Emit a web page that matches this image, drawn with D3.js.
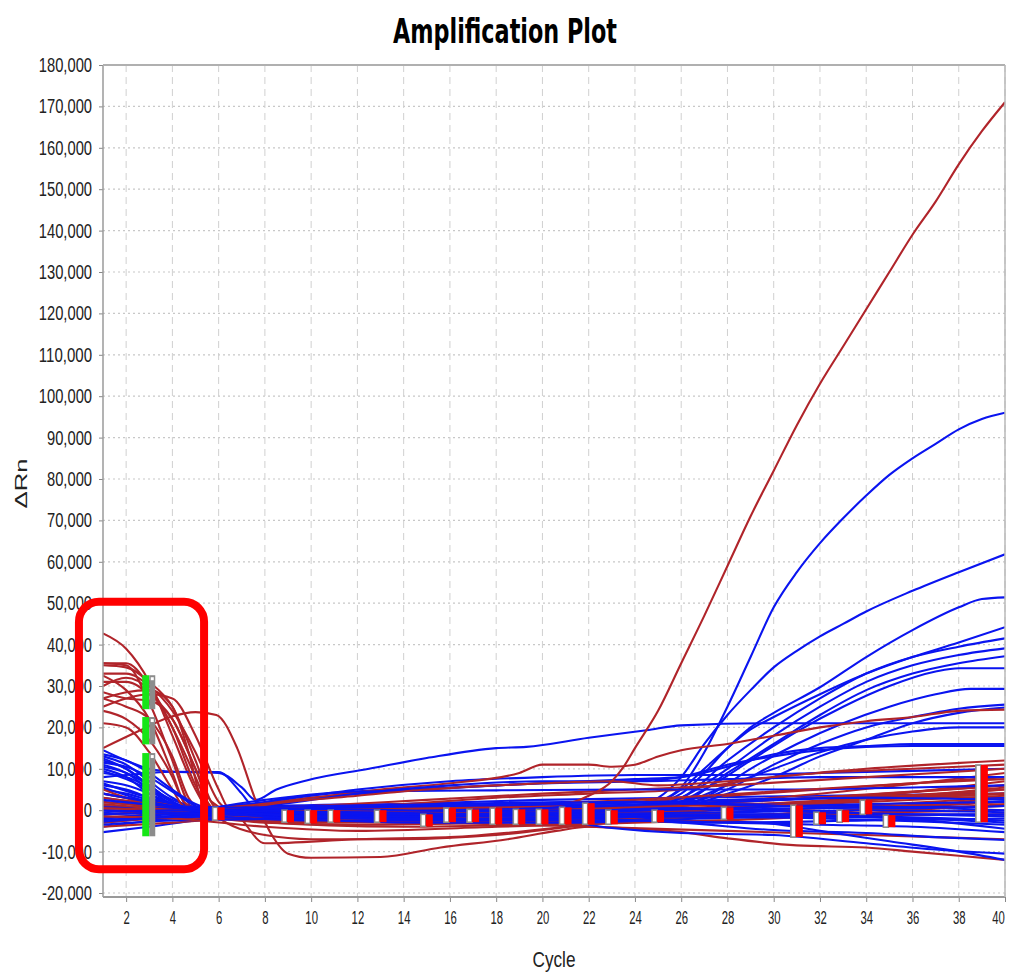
<!DOCTYPE html>
<html><head><meta charset="utf-8">
<script src="https://cdn.jsdelivr.net/npm/d3@7"></script>
<style>body{margin:0;background:#fff}svg{display:block}</style>
</head><body>
<svg id="chart" width="1010" height="976"></svg>
<script>
// ---------- data (values in thousands of ΔRn) ----------
const cycleTicks = [2,4,6,8,10,12,14,16,18,20,22,24,26,28,30,32,34,36,38,40];
const yTicks = [-20000,-10000,0,10000,20000,30000,40000,50000,60000,70000,80000,90000,100000,110000,120000,130000,140000,150000,160000,170000,180000];

const blueCurves = [
 [[1,14.5],[2,12],[3,10],[4,9.3],[6,9],[7,5.5],[7.6,2.5],[8.5,5],[9.8,7.2],[12.5,10],[15,12.6],[18,15],[19.3,15.3],[22,17.5],[24.5,19.3],[26,20.5],[30,21],[34,21],[40,21]],
 [[1,8],[2,8.5],[3,9],[4,9.3],[6,9.2],[7,4],[7.5,1],[9,0.5],[14,1.5],[20,2.5],[26,3],[32,3.5],[40,4]],
 [[1,13],[2,11],[3,7],[4,3],[5,0.5],[8,1],[14,1.5],[20,1],[24,0.5],[25,2],[26,5.5],[27,14],[28,25],[29,37],[30,49],[31,57.5],[32,64.5],[33,70.5],[34,76],[35,81],[36,85],[37,88.5],[38,92],[39,94.5],[40,96]],
 [[1,12],[2,10],[3,6],[4,2],[5,0],[10,0],[20,0.5],[24,1],[25,3],[26,8],[27,16],[28,23],[29,29],[30,34.5],[31,38.5],[32,42],[33,45],[34,48],[36,53],[38,57.5],[40,61.8]],
 [[1,11],[2,9],[3,5],[4,1.5],[5.5,0],[12,-0.5],[20,0],[24,0.5],[26,4],[27,9],[28,15],[29,20],[30,23.5],[32,29.7],[34,37],[36,43.5],[38,49],[39,51],[40,51.4]],
 [[1,10.5],[2,9],[3,6],[4,2],[5,0],[14,0.5],[24,0.5],[26,5],[27,10],[28,15],[29,19.5],[30,22.5],[32,28],[34,33],[36,37],[38,40.5],[40,44.2]],
 [[1,10],[2,8],[3,4],[4,1],[5,-0.5],[14,0],[24,0.5],[26,3],[28,12],[30,20],[32,27],[34,33],[36,37],[38,39.5],[40,41.5]],
 [[1,9.5],[2,7.5],[3,5],[4,2],[5,0],[12,-1],[20,-0.5],[24,0],[26,3],[28,10],[30,18],[32,25],[34,31],[36,35],[38,37.5],[40,39.1]],
 [[1,9],[2,8],[3,5.5],[4,2.5],[5.5,0.5],[14,1],[24,1],[26,2],[28,9],[30,16],[32,23],[34,29],[36,33],[38,35.5],[40,37.2]],
 [[1,7],[2,6],[3,4],[4,1.5],[5,0],[15,0],[25,0.5],[27,5],[29,12],[31,19],[33,25],[35,30],[37,33.5],[38,34.3],[40,34.3]],
 [[1,6],[2,5],[3,3],[4,1],[5,0],[16,-0.5],[25,0],[27,3],[29,10],[31,16],[33,21],[35,25],[37,28],[38.5,29.3],[40,29.3]],
 [[1,5],[2,4],[3,2.5],[5,0.5],[14,1],[25,0.5],[28,5],[30,11],[32,16],[34,20],[36,22.5],[38,24.5],[40,25.5]],
 [[1,4],[3,2],[5,0],[12,0],[20,0.5],[26,1],[28,4],[30,8],[32,13],[34,17],[36,21],[38,23.5],[40,24.8]],
 [[1,3],[3,1.5],[6,0],[14,0.5],[22,1],[26,2],[28,6],[30,10],[32,14],[34,17],[36,19],[38,20],[40,20]],
 [[1,2],[3,1],[6,0],[9,3],[12,4.5],[16,5.5],[20,6.5],[24,7.5],[26,8],[28,10.5],[30,13.5],[32,15],[34,15.5],[36,16],[40,16]],
 [[1,1],[4,0.5],[7,1],[10,3],[15,5],[20,6.5],[24,7],[26,8],[28,11],[30,13],[32,14.5],[36,15.5],[40,15.5]],
 [[1,0],[4,0],[8,2],[12,5],[16,7],[20,8],[24,8.5],[28,8.5],[32,9],[36,9.5],[40,10]],
 [[1,-1],[4,-0.5],[8,1],[12,4],[16,6],[20,7],[24,7],[28,7.5],[32,8],[36,8],[40,8]],
 [[1,-2],[5,0],[8,2.5],[12,4.5],[18,4.8],[24,5],[30,5],[36,5.5],[40,6]],
 [[1,-3],[5,-1],[10,0],[16,0.5],[22,1],[28,2],[34,3],[40,3]],
 [[1,-4],[4,-2],[8,-1],[14,-1],[20,-1.5],[26,-1],[32,-1],[40,-1]],
 [[1,-5.3],[3,-4],[6,-2],[10,-1.5],[16,-2],[22,-2.5],[28,-3],[34,-2.5],[40,-2]],
 [[1,-1.7],[4,-1],[8,0],[14,-0.5],[20,0],[26,0],[32,0.5],[40,1]],
 [[1,0.7],[5,0.5],[10,1],[16,1.5],[22,2],[28,1.5],[34,1],[40,0]],
 [[1,-2.4],[4,-1.5],[8,-1],[14,-1.5],[20,-2],[23,-4.3],[26,-5.5],[30,-6],[34,-8],[37,-9.5],[40,-10.5]],
 [[1,-3.5],[4,-2.5],[10,-2],[16,-1.5],[22,-1],[26,-2.5],[29.5,-3],[32,-5],[35,-7.5],[38,-10],[40,-12]],
 [[1,-1],[5,-0.5],[12,-1],[18,-1.5],[22,-2],[26,-3],[30,-4.8],[34,-5.5],[37,-6.5],[40,-7.2]],
 [[1,0],[6,-1],[12,-2],[18,-2.5],[24,-2.5],[28,-3],[32,-3.5],[36,-4],[40,-5.3]],
 [[1,12.5],[2,10],[3,6],[4,2],[5,0],[10,0.5],[16,1],[22,1.5],[28,2.5],[34,3],[40,2.5]],
 [[1,13.5],[2,12],[3,9],[4,5],[5,1.5],[6,0],[12,-0.5],[18,-1],[24,-1.5],[30,-1.5],[36,-2],[40,-3]],
 [[1,11.5],[2,10.5],[3,8],[4,4.5],[5,1],[6,-0.5],[12,-1.5],[20,-1],[28,-0.5],[34,0],[40,-0.5]],
 [[1,4],[2,3],[4,1],[8,-1],[14,-2],[20,-2],[26,-1.5],[32,-2],[40,-3.5]],
 [[1,6.5],[3,3],[5,0.5],[10,-0.5],[16,-1],[22,-0.5],[28,0.5],[34,1.5],[40,2]],
 [[1,-0.5],[4,0],[9,-2],[15,-3],[21,-3],[27,-2],[33,-1.5],[40,-2.5]],
 [[1,2.5],[4,1],[8,0.5],[14,0],[20,-0.5],[26,0.5],[32,-0.5],[40,-1.5]],
 [[1,-2.8],[5,-1.5],[10,-2.5],[16,-2.5],[22,-1.5],[28,-1],[34,-1.5],[40,-4.5]],
 [[1,5.5],[3,2],[6,-0.5],[12,1],[18,1.5],[24,2],[30,1],[36,0.5],[40,1]]
];

const redCurves = [
 [[1,42.7],[2,39],[3,31],[4,18],[5,5],[5.6,0],[8,-2],[12,-1.5],[20,-1],[26,0],[32,2],[40,4]],
 [[1,35.5],[2,35.5],[3,30],[4,20],[5,6],[5.7,0],[9,-1],[16,0],[24,1],[32,3],[40,6]],
 [[1,35.5],[2,35],[3,26],[4,12],[4.8,1],[6,-1],[12,-2],[20,-1],[28,1],[40,5]],
 [[1,35],[2,34.5],[3,31],[4,25],[5,12],[5.8,1],[7,-2],[14,-3],[22,-2],[30,0],[40,3]],
 [[1,32.5],[2,29],[3,22],[4,9],[4.6,1],[6,-2],[14,-4],[22,-3],[30,-1],[40,2]],
 [[1,30],[2,32],[3,29],[4,20],[5,8],[5.5,2],[6.5,-2],[10,-3],[20,-2],[30,1],[40,7]],
 [[1,28.5],[2,27],[3,26.5],[4,22],[5,10],[5.7,2],[7,-1],[18,0],[24,2],[32,5],[40,8]],
 [[1,27],[2,25],[3,22],[4,13],[4.7,3],[5.3,0],[10,-1],[20,0],[30,3],[40,9]],
 [[1,25],[2,27],[3,28],[4,27],[5,18],[6,5],[6.5,0],[9,-2],[20,-1.5],[30,1],[40,5]],
 [[1,24],[2,22],[3,17],[4,8],[4.5,2],[5.2,0],[12,-0.5],[20,0.5],[30,2.5],[40,6]],
 [[1,21],[2,20],[3,14],[4,5],[4.5,1],[6,0],[14,-1],[22,0],[32,3],[40,4]],
 [[1,15],[2.5,19],[3.9,22.5],[5,23.7],[5.9,23],[6.8,15],[7.6,2.4],[8.3,-6],[9,-10.5],[10,-11.5],[13,-11.3],[15.6,-9],[18.5,-7],[20.6,-5],[22,-4],[24,-4.5],[26,-5.3],[28,-6.8],[31,-8.5],[34,-9],[36,-10],[40,-12]],
 [[1,27],[2,28.5],[3,29],[4,25],[4.7,14],[5.3,2],[6,-1],[10,-2],[18,-3],[26,-2],[34,0],[40,1]],
 [[1,31],[2,31],[3,28],[4,22],[5,10],[5.8,-1],[8,-6],[10,-7],[14,-7],[18,-6],[22,-3.5],[26,-2],[40,-1]],
 [[1,33],[2,33],[3,30],[4,24],[5,14],[6,2],[6.8,-1],[8,-8],[12,-7],[16,-6.5],[21,-4],[24,-2],[30,-1],[40,0]],
 [[1,5],[2,3],[3,1],[4,0],[8,0.5],[14,1.5],[18,3],[22,4],[26,5],[30,8],[34,10],[40,12]],
 [[1,2],[3,1],[5,0.5],[7,1],[10,3],[13,5],[16,6.5],[19,9],[20,11],[22,11],[23,10.5],[24,11],[25,13],[26,14.5],[28,16],[30,18],[32,20],[34,21.5],[36,22.5],[38,24],[40,24.3]],
 [[1,-2],[3,-1],[6,0],[10,1],[15,2.5],[20,4],[24,5],[28,6],[34,8],[40,10]],
 [[1,0],[4,-1],[8,-3],[12,-3.5],[18,-3],[24,-2],[30,-1],[36,1],[40,3]],
 [[1,-3],[4,-2],[8,-2],[14,-1],[20,0],[26,1],[32,2],[40,4]],
 [[1,3],[4,1],[8,-1],[14,-2],[20,-2.5],[26,-1],[32,0.5],[40,2]],
 [[1,-1],[5,0],[10,-1],[16,-3],[22,-4],[28,-5],[34,-6],[40,-7]],
 [[1,1],[6,0],[9,2],[12,3.5],[15,5],[18,6],[20,6.5],[23,7],[25,6],[28,7],[32,9],[36,10],[40,11]],
 [[1,-4],[4,-3],[8,-1.5],[14,-0.5],[20,-1],[26,0],[32,1.5],[40,3.5]],
 [[1,1.5],[5,-0.5],[10,-2.5],[16,-2],[22,-1],[28,0.5],[34,2.5],[40,5.5]],
 [[1,-1.5],[4,-2],[8,-4],[12,-5],[18,-4],[24,-3],[30,-2],[36,0],[40,1.5]],
 [[1,4],[3,2],[6,0.5],[12,0],[18,1],[24,2.5],[30,4.5],[36,6.5],[40,7.5]],
 [[1,0.5],[5,0],[10,0.5],[15,0.5],[20,1],[21,1.5],[22,3.5],[23,7],[23.5,10.4],[24,15],[25,24],[26,35.5],[27,47],[28,59],[29,71],[30,82],[31,93],[32,103],[33,112],[34,121],[35,130],[36,139],[37,147],[38,156],[39,164],[40,171]]
];

// threshold/baseline markers: [cycle, top, bottom] (thousands)
const redMarkers = [[6,0.7,-2.4],[9,0,-2.9],[10,0,-3.2],[11,0,-2.9],[13,0,-2.9],[15,-1,-3.9],[16,0.5,-2.9],[17,0.2,-2.9],[18,0.5,-3.4],[19,0.2,-3.4],[20,0.2,-3.4],[21,0.7,-3.4],[22,1.7,-3.4],[23,0,-3.4],[25,0,-2.9],[28,0.7,-2.2],[31,1.2,-6.5],[32,-0.5,-3.4],[33,0,-2.9],[34,2.4,-1],[35,-1.2,-4.1],[39,10.9,-2.9]];
const greenMarkers = [[3,32.6,24.4],[3,22.5,15.9],[3,13.8,-6.3]];
// highlight box in data units: [cycleFrom, cycleTo, valueTop, valueBottom]
const highlightBox = [-0.04, 5.37, 50.36, -14.25];

// ---------- drawing ----------
const svg = d3.select("#chart");
const W = 1010, H = 976;
const x = d3.scaleLinear().domain([1,40]).range([103,1005]);
const y = d3.scaleLinear().domain([-20000,180000]).range([893,65]);
const plotBottom = 897;
const K = 1000;
const FONT = "'Liberation Sans Narrow','Liberation Sans',Arial,sans-serif";

svg.append("rect").attr("width",W).attr("height",H).attr("fill","#fff");

svg.append("defs").append("clipPath").attr("id","clip")
  .append("rect").attr("x",x(1)).attr("y",y(180000)).attr("width",x(40)-x(1)).attr("height",plotBottom-y(180000));

// grid
const grid = svg.append("g");
grid.selectAll(".hg").data(yTicks).join("line")
  .attr("x1",x(1)).attr("x2",x(40)).attr("y1",d=>y(d)).attr("y2",d=>y(d))
  .attr("stroke","#c8c8c8").attr("stroke-width",1.2).attr("stroke-dasharray","2,3");
grid.selectAll(".vg").data(cycleTicks).join("line")
  .attr("x1",d=>x(d)).attr("x2",d=>x(d)).attr("y1",y(180000)).attr("y2",plotBottom)
  .attr("stroke","#d0d0d0").attr("stroke-width",1).attr("stroke-dasharray","7,5");

// curves
const line = d3.line().x(d=>x(d[0])).y(d=>y(d[1]*K)).curve(d3.curveMonotoneX);
const curvesG = svg.append("g").attr("clip-path","url(#clip)").attr("fill","none")
  .attr("stroke-width",2.1).attr("stroke-linejoin","round");
const n = Math.max(blueCurves.length, redCurves.length);
for (let i=0;i<n;i++){
  if (i < blueCurves.length) curvesG.append("path").attr("d",line(blueCurves[i])).attr("stroke","#0a14f0");
  if (i < redCurves.length) curvesG.append("path").attr("d",line(redCurves[i])).attr("stroke","#b0242a");
}

// markers
const mk = svg.append("g");
redMarkers.forEach(([c,t,b])=>{
  const top = y(t*K), bot = y(b*K);
  mk.append("rect").attr("x",x(c)-6).attr("y",top).attr("width",5).attr("height",Math.max(bot-top,3))
    .attr("fill","#fff").attr("stroke","#8a8a8a").attr("stroke-width",1.6);
  mk.append("rect").attr("x",x(c)-1).attr("y",top).attr("width",7).attr("height",Math.max(bot-top,3))
    .attr("fill","#ff0000");
});
greenMarkers.forEach(([c,t,b])=>{
  const top = y(t*K), bot = y(b*K);
  mk.append("rect").attr("x",x(c)-7).attr("y",top).attr("width",7).attr("height",bot-top).attr("fill","#16e616");
  mk.append("rect").attr("x",x(c)).attr("y",top).attr("width",6).attr("height",bot-top).attr("fill","#8c8c8c");
  mk.append("rect").attr("x",x(c)+1.5).attr("y",top+2).attr("width",3).attr("height",3).attr("fill","#fff");
});

// axes
const charW = ch => ch===","?4:(ch==="-"?5:8.2);
const fmt = d => d3.format(",")(d).replace("\u2212","-");
const yAxis = svg.append("g").attr("transform",`translate(${x(1)},0)`)
  .call(d3.axisLeft(y).tickValues(yTicks).tickSize(4).tickPadding(7).tickFormat(fmt));
yAxis.select(".domain").remove();
yAxis.selectAll(".tick line").attr("stroke","#888");
yAxis.selectAll("text").attr("font-family",FONT).attr("font-size",20).attr("fill","#222")
  .attr("textLength",function(d){return fmt(d).split("").reduce((s,c)=>s+charW(c),0);})
  .attr("lengthAdjust","spacingAndGlyphs");

const xAxis = svg.append("g").attr("transform",`translate(0,${plotBottom})`)
  .call(d3.axisBottom(x).tickValues(cycleTicks).tickSize(5).tickPadding(9).tickFormat(d3.format("d")));
xAxis.select(".domain").remove();
xAxis.selectAll(".tick line").attr("stroke","#888");
xAxis.selectAll("text").attr("font-family",FONT).attr("font-size",18).attr("fill","#222")
  .attr("textLength",d=>String(d).length*6.3).attr("lengthAdjust","spacingAndGlyphs")
  .attr("dx",d=>d===40?-7:0);

// plot frame
const frame = svg.append("g").attr("stroke","#9a9a9a").attr("fill","none");
frame.append("line").attr("x1",x(1)).attr("x2",x(1)).attr("y1",y(180000)).attr("y2",plotBottom).attr("stroke-width",1.5);
frame.append("line").attr("x1",x(1)).attr("x2",x(40)).attr("y1",plotBottom).attr("y2",plotBottom).attr("stroke-width",2);
frame.append("line").attr("x1",x(1)).attr("x2",x(40)).attr("y1",y(180000)).attr("y2",y(180000)).attr("stroke-width",2).attr("stroke","#b0b0b0");
frame.append("line").attr("x1",x(40)).attr("x2",x(40)).attr("y1",y(180000)).attr("y2",plotBottom).attr("stroke-width",1.5).attr("stroke","#b8b8b8");

// highlight annotation
svg.append("rect")
  .attr("x",x(highlightBox[0])).attr("y",y(highlightBox[2]*K))
  .attr("width",x(highlightBox[1])-x(highlightBox[0]))
  .attr("height",y(highlightBox[3]*K)-y(highlightBox[2]*K))
  .attr("rx",20).attr("ry",20).attr("fill","none").attr("stroke","#ff0000").attr("stroke-width",8);

// titles
svg.append("text").attr("x",505).attr("y",43).attr("text-anchor","middle")
  .attr("font-family","'DejaVu Sans Condensed','DejaVu Sans',sans-serif").attr("font-weight","bold")
  .attr("font-size",34).attr("fill","#000")
  .attr("textLength",224).attr("lengthAdjust","spacingAndGlyphs").text("Amplification Plot");
svg.append("text").attr("x",554).attr("y",967).attr("text-anchor","middle")
  .attr("font-family",FONT).attr("font-size",22).attr("fill","#222")
  .attr("textLength",43).attr("lengthAdjust","spacingAndGlyphs").text("Cycle");
svg.append("text").attr("transform","translate(27,483.5) rotate(-90)").attr("text-anchor","middle")
  .attr("font-family",FONT).attr("font-size",17).attr("fill","#222")
  .attr("textLength",50).attr("lengthAdjust","spacingAndGlyphs").text("ΔRn");
</script>
</body></html>
